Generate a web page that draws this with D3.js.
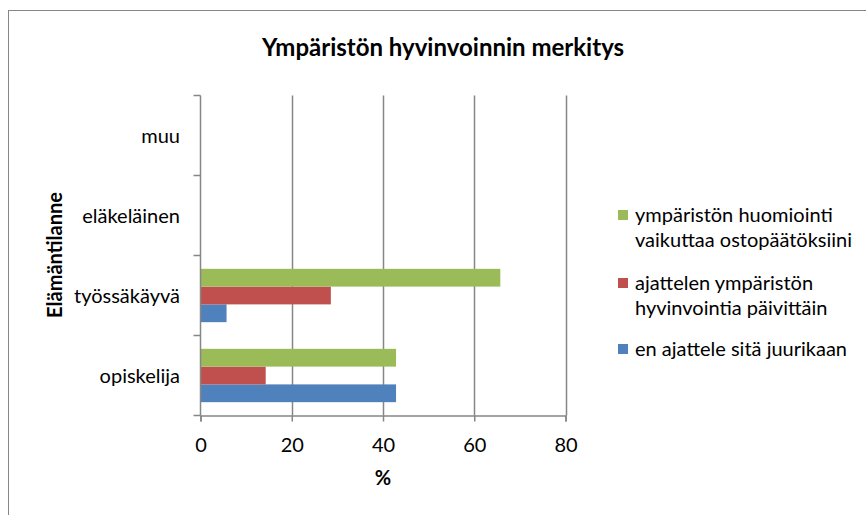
<!DOCTYPE html>
<html>
<head>
<meta charset="utf-8">
<script src="https://cdn.jsdelivr.net/npm/d3@7"></script>
<style>
  body { margin: 0; background: #fff; }
  svg { display: block; font-family: "Lato", "Open Sans", sans-serif; }
</style>
</head>
<body>
<svg id="chart"></svg>
<script>
const w = 866;
const h = 515;

// data
const categories = ["opiskelija", "työssäkäyvä", "eläkeläinen", "muu"];
const seriesNames = [
  "en ajattele sitä juurikaan",
  "ajattelen ympäristön hyvinvointia päivittäin",
  "ympäristön huomiointi vaikuttaa ostopäätöksiini"
];
const enAjattele = [42.86, 5.71, null, null];
const paivittain = [14.29, 28.57, null, null];
const ostopaatokset = [42.86, 65.71, null, null];
const xTicks = [0, 20, 40, 60, 80];
const colors = ["#4F81BD", "#C0504D", "#9BBB59"];
const legendLines = [
  ["en ajattele sitä juurikaan"],
  ["ajattelen ympäristön", "hyvinvointia päivittäin"],
  ["ympäristön huomiointi", "vaikuttaa ostopäätöksiini"]
];

const series = [enAjattele, paivittain, ostopaatokset];

const plot = { left: 200.5, right: 565.5, top: 95.5, bottom: 415.5 };

const svg = d3.select("#chart").attr("width", w).attr("height", h);

// outer frame
svg.append("rect")
  .attr("x", 8.5).attr("y", 10.5)
  .attr("width", 900).attr("height", 600)
  .attr("fill", "none").attr("stroke", "#868686").attr("stroke-width", 1);

const xScale = d3.scaleLinear().domain([0, 80]).range([plot.left, plot.right]);
const yScale = d3.scaleBand().domain(categories).range([plot.bottom, plot.top]);
const inner = d3.scaleBand().domain(d3.range(3)).range([0, yScale.bandwidth()])
  .paddingInner(0).paddingOuter(0.75);

// gridlines
svg.append("g")
  .selectAll("line")
  .data(xTicks.slice(1))
  .enter()
  .append("line")
  .attr("x1", d => Math.round(xScale(d)) + 0.5)
  .attr("x2", d => Math.round(xScale(d)) + 0.5)
  .attr("y1", plot.top)
  .attr("y2", plot.bottom)
  .attr("stroke", "#868686")
  .attr("stroke-width", 1.5);

// bars (series 0 at bottom of group)
series.forEach((vals, si) => {
  svg.append("g")
    .selectAll("rect")
    .data(categories.map((c, i) => ({ c, v: vals[i] })).filter(d => d.v != null))
    .enter()
    .append("rect")
    .attr("x", xScale(0))
    .attr("y", d => yScale(d.c) + inner(2 - si))
    .attr("width", d => xScale(d.v) - xScale(0))
    .attr("height", inner.bandwidth())
    .attr("fill", colors[si]);
});

// x axis
const xAxis = d3.axisBottom(xScale).tickValues(xTicks).tickSize(6).tickPadding(16);
const gx = svg.append("g")
  .attr("transform", `translate(0,${plot.bottom})`)
  .call(xAxis);
gx.select(".domain").attr("stroke", "#868686").attr("stroke-width", 1.5);
gx.selectAll(".tick line").attr("stroke", "#868686").attr("stroke-width", 1.5);
gx.selectAll(".tick text").attr("font-size", 20).attr("fill", "#000")
  .attr("font-family", "Lato");

// y axis: ticks on category boundaries, labels at centers
const yAxisLine = svg.append("g");
yAxisLine.append("line")
  .attr("x1", plot.left).attr("x2", plot.left)
  .attr("y1", plot.top).attr("y2", plot.bottom)
  .attr("stroke", "#868686").attr("stroke-width", 1.5);
const boundaries = categories.map(c => yScale(c)).concat([plot.bottom]);
yAxisLine.selectAll("line.tk")
  .data(boundaries)
  .enter()
  .append("line")
  .attr("class", "tk")
  .attr("x1", plot.left - 7).attr("x2", plot.left)
  .attr("y1", d => d).attr("y2", d => d)
  .attr("stroke", "#868686").attr("stroke-width", 1.5);
svg.append("g")
  .selectAll("text")
  .data(categories)
  .enter()
  .append("text")
  .attr("x", 180)
  .attr("y", d => yScale(d) + yScale.bandwidth() / 2)
  .attr("dy", "0.35em")
  .attr("text-anchor", "end")
  .attr("font-size", 20)
  .text(d => d);

// titles
svg.append("text")
  .attr("x", 443).attr("y", 56)
  .attr("text-anchor", "middle")
  .attr("font-size", 24).attr("font-weight", "bold")
  .text("Ympäristön hyvinvoinnin merkitys");

svg.append("text")
  .attr("x", 383).attr("y", 485)
  .attr("text-anchor", "middle")
  .attr("font-size", 20).attr("font-weight", "bold")
  .text("%");

svg.append("text")
  .attr("transform", "translate(62,255) rotate(-90)")
  .attr("text-anchor", "middle")
  .attr("font-size", 20).attr("font-weight", "bold")
  .text("Elämäntilanne");

// legend (reverse order, green first)
const legendY = [349, 283, 215];
const lg = svg.append("g");
legendLines.forEach((lines, i) => {
  lg.append("rect")
    .attr("x", 618).attr("y", legendY[i] - 5)
    .attr("width", 10).attr("height", 10)
    .attr("fill", colors[i]);
  lg.append("text")
    .attr("x", 635).attr("y", legendY[i])
    .attr("font-size", 20)
    .selectAll("tspan")
    .data(lines)
    .enter()
    .append("tspan")
    .attr("x", 635)
    .attr("dy", (d, k) => k === 0 ? "0.35em" : 25)
    .text(d => d);
});
</script>
</body>
</html>
